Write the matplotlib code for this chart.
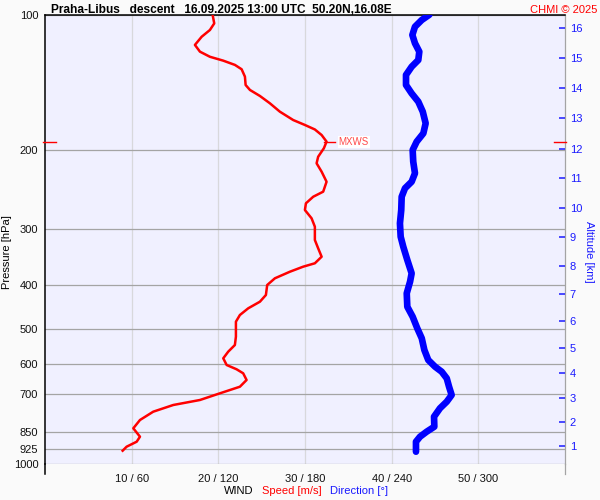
import matplotlib
matplotlib.use('Agg')
import matplotlib.pyplot as plt
from matplotlib.ticker import NullLocator
import matplotlib.transforms as mtransforms

plt.rcParams['font.family'] = ['Liberation Sans', 'DejaVu Sans']

# ---------------- data ----------------
speed_p = [100.0, 104.5, 108.1, 111.9, 116.7, 120.8, 124.0, 126.5, 129.3, 132.2, 137.3, 143.3,
           147.0, 151.6, 157.4, 164.3, 171.5, 175.9, 180.0, 185.2, 191.6, 198.2, 207.0, 214.1,
           223.5, 235.3, 247.6, 254.1, 262.8, 272.0, 283.8, 296.3, 317.2, 331.0, 345.6, 357.4,
           363.7, 373.2, 386.0, 399.5, 420.5, 435.2, 450.2, 465.9, 482.2, 520.7, 543.4, 562.3,
           581.7, 602.0, 615.4, 628.2, 650.1, 672.9, 696.0, 720.3, 739.0, 764.8, 798.1, 832.8,
           869.4, 892.0, 915.1, 934.1]
speed_ms = [19.35, 19.54, 19.04, 18.09, 17.31, 17.89, 19.04, 20.58, 21.93, 22.70, 23.08, 23.16,
            23.66, 24.81, 25.96, 27.11, 28.65, 30.0, 31.15, 31.93, 32.5, 32.19, 31.53, 31.35,
            31.93, 32.5, 32.11, 30.96, 30.12, 30.0, 30.77, 31.15, 31.15, 31.53, 31.93, 31.15,
            29.80, 28.27, 26.54, 25.65, 25.50, 24.81, 23.46, 22.50, 22.04, 22.04, 21.92, 21.15,
            20.58, 20.97, 22.12, 22.88, 23.27, 22.50, 20.20, 17.89, 14.81, 12.50, 10.97, 10.20,
            10.97, 10.59, 9.43, 8.97]

dir_p = [100.0, 102.7, 106.3, 110.9, 115.7, 120.8, 126.1, 130.5, 136.1, 143.3, 149.6, 156.1,
         164.3, 174.4, 183.6, 191.6, 200.0, 212.3, 225.3, 235.3, 243.3, 254.1, 272.0, 291.2,
         311.9, 328.3, 351.4, 376.3, 392.8, 416.9, 446.6, 470.0, 498.8, 525.0, 557.4, 586.8,
         607.3, 623.1, 644.6, 672.9, 702.1, 726.6, 751.6, 784.7, 826.0, 847.4, 869.4, 892.0,
         938.9]
dir_deg = [266.1, 260.9, 256.2, 254.4, 256.2, 259.2, 258.5, 253.9, 250.0, 250.0, 253.9, 258.5,
           261.6, 263.6, 262.0, 257.4, 254.6, 255.0, 256.2, 253.9, 249.3, 247.0, 246.7, 245.8,
           246.3, 248.1, 250.9, 253.9, 252.8, 250.5, 250.9, 254.6, 257.8, 260.9, 262.7, 265.4,
           270.1, 274.7, 278.2, 279.8, 281.6, 278.2, 273.5, 269.4, 269.6, 264.3, 259.7, 256.9,
           256.9]

pressure_ticks = [100, 200, 300, 400, 500, 600, 700, 850, 925, 1000]
speed_ticks = [10, 20, 30, 40, 50]
speed_tick_labels = ['10 / 60', '20 / 120', '30 / 180', '40 / 240', '50 / 300']

alt_km = [1, 2, 3, 4, 5, 6, 7, 8, 9, 10, 11, 12, 13, 14, 15, 16]
alt_p = [910.5, 805.1, 714.0, 628.2, 551.0, 480.5, 419.0, 362.4, 312.9, 269.6,
         230.5, 198.7, 169.4, 145.7, 125.0, 107.2]

mxws_p = 192.0
mxws_speed = 32.5

title_text = 'Praha-Libus   descent   16.09.2025 13:00 UTC  50.20N,16.08E'

# ---------------- figure ----------------
W, H = 600, 500
fig = plt.figure(figsize=(6, 5), dpi=100, facecolor='#fafafa')
ax = fig.add_axes([44.9 / W, 1 - 464 / H, 520 / W, 449.2 / H])
ax.set_facecolor('#f0f0ff')
ax.set_yscale('log')
ax.set_ylim(1000, 100)
ax.set_xlim(0, 60)
ax.yaxis.set_minor_locator(NullLocator())
ax.set_yticks(pressure_ticks)
ax.set_yticklabels([str(p) for p in pressure_ticks])
ax.set_xticks(speed_ticks)
ax.set_xticklabels(speed_tick_labels)
ax.tick_params(axis='both', length=0, labelsize=8, colors='#111111')
ax.tick_params(axis='y', pad=4.8)
ax.tick_params(axis='x', pad=7)
ax.grid(axis='y', color='#a4a4a4', lw=0.9)
ax.grid(axis='x', color='#d8d8dc', lw=0.9)
ax.set_axisbelow(True)
ax.spines['bottom'].set_visible(False)
ax.spines['top'].set_color('black')
ax.spines['top'].set_linewidth(1.1)
ax.spines['left'].set_color('black')
ax.spines['left'].set_linewidth(1.1)
ax.spines['right'].set_color('#a4a4a4')
ax.spines['right'].set_linewidth(0.9)
# small extensions of side axes below the 1000 hPa line
ax.plot([0, 0], [0, -0.022], transform=ax.transAxes, clip_on=False, color='black', lw=1.1)
ax.plot([1, 1], [0, -0.022], transform=ax.transAxes, clip_on=False, color='#a4a4a4', lw=0.9)

# speed
ax.plot(speed_ms, speed_p, color='#ff0000', lw=1.8, solid_joinstyle='round', zorder=3)

# direction axes
axd = ax.twiny()
axd.set_xlim(0, 360)
axd.tick_params(top=False, labeltop=False, bottom=False, labelbottom=False)
for s in axd.spines.values():
    s.set_visible(False)
axd.plot(dir_deg, dir_p, color='#0000ff', lw=4.8, solid_capstyle='round',
         solid_joinstyle='round', zorder=3)

# altitude axes
axa = ax.twinx()
axa.set_yscale('log')
axa.set_ylim(1000, 100)
axa.yaxis.set_minor_locator(NullLocator())
axa.set_yticks(alt_p)
axa.set_yticklabels([str(k) for k in alt_km])
axa.tick_params(axis='y', direction='in', length=4, width=1.1, colors='#1a1aff',
                labelsize=8, pad=3.5)
for s in axa.spines.values():
    s.set_visible(False)

# MXWS markers
trans = mtransforms.blended_transform_factory(ax.transAxes, ax.transData)
ax.plot([-0.004, 0.021], [mxws_p, mxws_p], transform=trans, color='red', lw=1.0, clip_on=False, zorder=4)
ax.plot([0.979, 1.002], [mxws_p, mxws_p], transform=trans, color='red', lw=1.0, clip_on=False, zorder=4)
ax.plot([mxws_speed - 0.3, mxws_speed + 1.0], [mxws_p, mxws_p], color='red', lw=1.0, zorder=4)
ax.text(mxws_speed + 1.4, mxws_p, 'MXWS', color='#ff4a4a', fontsize=7, va='center', ha='left',
        bbox=dict(facecolor='white', edgecolor='none', pad=0.6), zorder=5)

# texts
fig.text(50.9 / W, 1 - 13.4 / H, title_text, fontsize=8.6, fontweight='bold', ha='left',
         va='baseline', color='black')
fig.text(597 / W, 1 - 13.4 / H, 'CHMI © 2025', fontsize=8, color='red', ha='right', va='baseline')
fig.text(7.5 / W, 1 - 252 / H, 'Pressure [hPa]', rotation=90, fontsize=8, ha='center', va='center')
fig.text(589 / W, 1 - 252 / H, 'Altitude [km]', rotation=270, fontsize=8, color='#1a1aff',
         ha='center', va='center')
yb = 1 - 491.5 / H
fig.text(253.3 / W, yb, 'WIND', fontsize=8, color='black', ha='right', va='center')
fig.text(292.2 / W, yb, 'Speed [m/s]', fontsize=8, color='red', ha='center', va='center')
fig.text(330.4 / W, yb, 'Direction [°]', fontsize=8, color='#1a1aff', ha='left', va='center')

fig.savefig('out.png', dpi=100, facecolor=fig.get_facecolor())
